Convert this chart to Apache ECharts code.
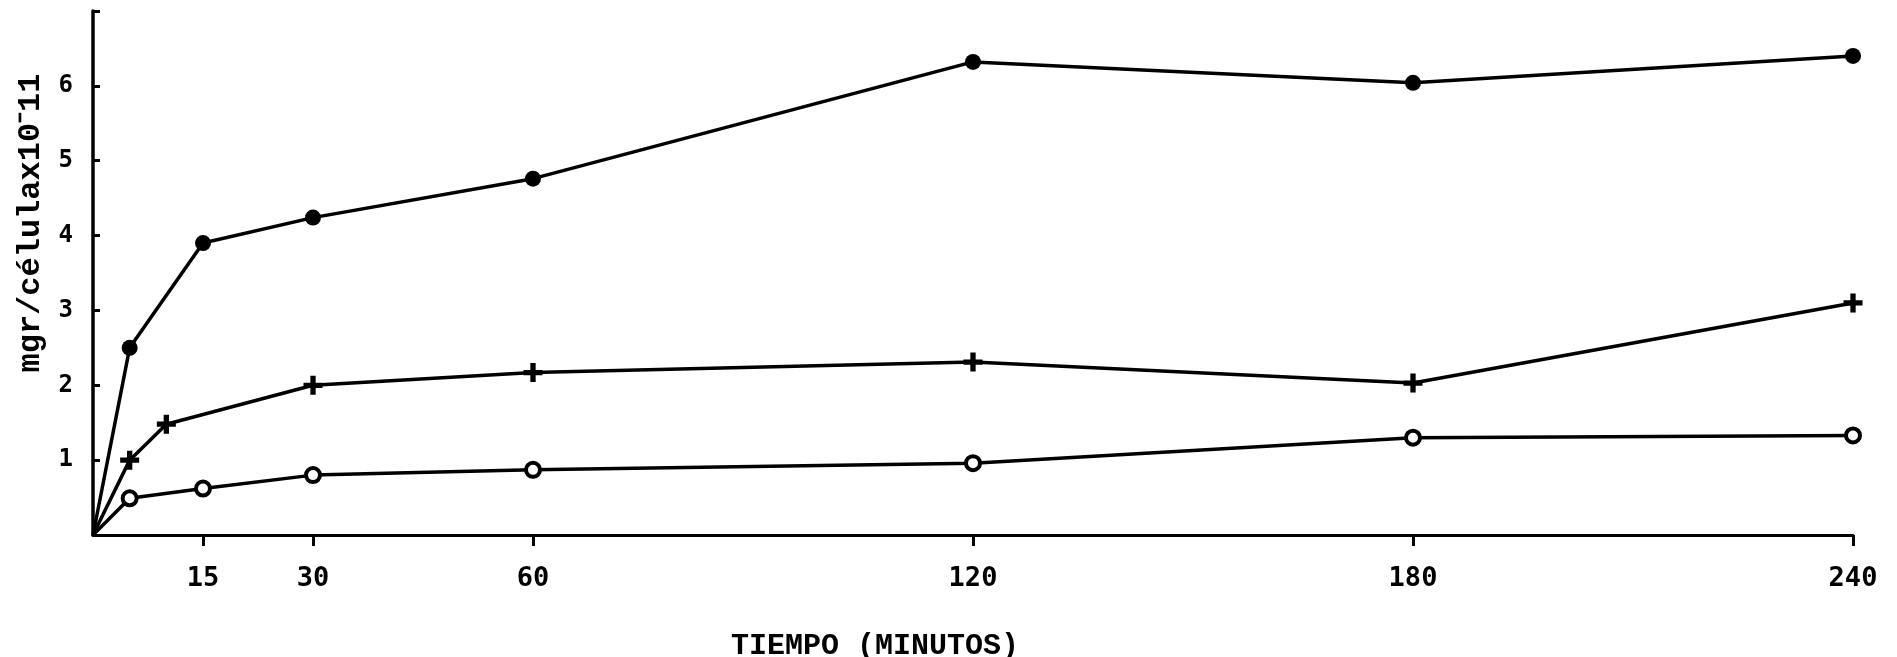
<!DOCTYPE html>
<html>
<head>
<meta charset="utf-8">
<script src="https://cdn.jsdelivr.net/npm/echarts@6/dist/echarts.min.js"></script>
<style>
  html, body { margin: 0; padding: 0; background: #fff; }
  #chart { width: 1897px; height: 657px; }
</style>
</head>
<body>
<div id="chart"></div>
<script>
// Time points (minutes)
const timesCircles = [0, 5, 15, 30, 60, 120, 180, 240];
const timesCross = [0, 5, 10, 30, 60, 120, 180, 240];

// Series values (mgr/célula x10^-11)
const filledValues = [0, 2.5, 3.9, 4.24, 4.76, 6.32, 6.04, 6.4];
const crossValues  = [0, 1.0, 1.48, 2.0, 2.17, 2.31, 2.03, 3.1];
const openValues   = [0, 0.49, 0.62, 0.8, 0.87, 0.96, 1.3, 1.33];

// Tick labels
const xTickLabels = [15, 30, 60, 120, 180, 240];
const yTickLabels = [1, 2, 3, 4, 5, 6];
const yTicks = [1, 2, 3, 4, 5, 6, 7];

const xName = 'TIEMPO (MINUTOS)';
const yName = 'mgr/célulax10⁻11';

const FONT = 'DejaVu Sans Mono';
const NAMEFONT = 'Liberation Mono';
const plusPath = 'path://M3.6,0 H6.4 V3.6 H10 V6.4 H6.4 V10 H3.6 V6.4 H0 V3.6 H3.6 Z';

function zip(xs, ys) { return xs.map((x, i) => [x, ys[i]]); }
function pts(xs, ys, size) {
  return zip(xs, ys).map((p, i) => ({ value: p, symbolSize: i === 0 ? 0 : size }));
}

const chart = echarts.init(document.getElementById('chart'), null, { renderer: 'canvas' });
chart.setOption({
  backgroundColor: '#ffffff',
  animation: false,
  grid: { left: 93, right: 44, top: 11, bottom: 122, containLabel: false, outerBoundsMode: 'none' },
  xAxis: {
    type: 'value', min: 0, max: 240,
    name: xName, nameLocation: 'middle', nameGap: 96,
    nameTextStyle: { fontFamily: NAMEFONT, fontWeight: 'bold', fontSize: 30, color: '#000', padding: [0, 196, 0, 0] },
    axisLine: { show: true, lineStyle: { color: '#000', width: 3 } },
    axisTick: { show: true, customValues: xTickLabels, length: 11, lineStyle: { color: '#000', width: 3 } },
    axisLabel: { customValues: xTickLabels, fontFamily: FONT, fontWeight: 'bold', fontSize: 27, color: '#000', margin: 30 },
    splitLine: { show: false }
  },
  yAxis: {
    type: 'value', min: 0, max: 7,
    name: yName, nameLocation: 'middle', nameGap: 46, nameRotate: 90,
    nameTextStyle: { fontFamily: NAMEFONT, fontWeight: 'bold', fontSize: 32, color: '#000', padding: [0, 0, 0, 100] },
    axisLine: { show: true, lineStyle: { color: '#000', width: 3.5 } },
    axisTick: { show: true, inside: true, customValues: yTicks, length: 7, lineStyle: { color: '#000', width: 3 } },
    axisLabel: { customValues: yTickLabels, fontFamily: FONT, fontWeight: 'bold', fontSize: 24, color: '#000', margin: 20 },
    splitLine: { show: false }
  },
  series: [
    {
      type: 'line', name: 'filled',
      data: pts(timesCircles, filledValues, 16),
      symbol: 'circle',
      lineStyle: { color: '#000', width: 3.5 },
      itemStyle: { color: '#000', borderWidth: 0 },
      z: 3
    },
    {
      type: 'line', name: 'cross',
      data: pts(timesCross, crossValues, 19),
      symbol: plusPath,
      lineStyle: { color: '#000', width: 3.5 },
      itemStyle: { color: '#000', borderWidth: 0 },
      z: 3
    },
    {
      type: 'line', name: 'open',
      data: pts(timesCircles, openValues, 14),
      symbol: 'circle',
      lineStyle: { color: '#000', width: 3.5 },
      itemStyle: { color: '#fff', borderColor: '#000', borderWidth: 4 },
      z: 3
    }
  ]
});
</script>
</body>
</html>
